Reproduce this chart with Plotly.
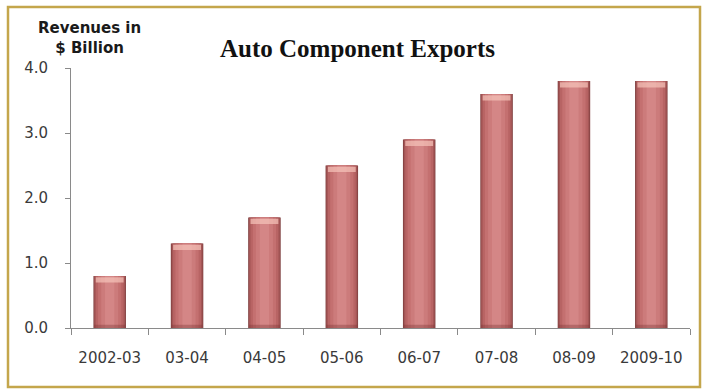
import plotly.graph_objects as go

# Auto component exports, revenues in $ billion
years = ["2002-03", "03-04", "04-05", "05-06", "06-07", "07-08", "08-09", "2009-10"]
revenues = [0.8, 1.3, 1.7, 2.5, 2.9, 3.6, 3.8, 3.8]
y_ticks = [0.0, 1.0, 2.0, 3.0, 4.0]

fig = go.Figure()

# Cylinder-like shading: stacked overlays, dark edges to a lighter core
shades = [
    (0.42, "#7e3e3e"),
    (0.40, "#a45656"),
    (0.36, "#b86464"),
    (0.30, "#c47070"),
    (0.22, "#cc7b7b"),
    (0.12, "#d48686"),
]
for w, c in shades:
    fig.add_trace(go.Bar(
        x=years, y=revenues, width=w,
        marker=dict(color=c, line=dict(width=0)),
        hoverinfo="skip" if w != 0.42 else None,
        showlegend=False,
    ))

# Light rim at the top of each column
cap_h = 0.08
fig.add_trace(go.Bar(
    x=years, y=[cap_h] * len(revenues), base=[v - cap_h - 0.02 for v in revenues],
    width=0.36, marker=dict(color="rgba(246,196,186,0.7)", line=dict(width=0)),
    hoverinfo="skip", showlegend=False,
))
# Slightly darker foot of each column
fig.add_trace(go.Bar(
    x=years, y=[0.05] * len(revenues), width=0.40,
    marker=dict(color="rgba(120,50,50,0.35)", line=dict(width=0)),
    hoverinfo="skip", showlegend=False,
))

font_sans = "DejaVu Sans"
axis_col = "#8a8a8a"

fig.update_layout(
    width=707, height=390,
    margin=dict(l=71, r=17, t=68, b=62),
    paper_bgcolor="white", plot_bgcolor="white",
    barmode="overlay",
    showlegend=False,
    xaxis=dict(
        type="category", range=[-0.5, 7.5],
        showline=True, linecolor=axis_col, linewidth=1,
        ticks="outside", tickson="boundaries", ticklen=6, tickcolor=axis_col,
        showgrid=False, zeroline=False,
        tickfont=dict(family=font_sans, size=15, color="#3a3a3a"),
        ticklabelstandoff=16,
    ),
    yaxis=dict(
        range=[0, 4], tickvals=y_ticks, tickformat=".1f",
        showline=True, linecolor=axis_col, linewidth=1,
        ticks="outside", ticklen=5, tickcolor=axis_col,
        showgrid=False, zeroline=False,
        tickfont=dict(family=font_sans, size=15, color="#3a3a3a"),
        ticklabelstandoff=14,
    ),
    annotations=[
        dict(
            text="<b>Auto Component Exports</b>",
            xref="paper", yref="paper", x=(357 - 71) / 619, y=(328 - 48) / 260,
            xanchor="center", yanchor="middle", showarrow=False,
            font=dict(family="Liberation Serif", size=25, color="#111111"),
        ),
        dict(
            text="<b>Revenues in</b><br><b>$ Billion</b>",
            xref="paper", yref="paper", x=(89 - 71) / 619, y=(328 - 38) / 260,
            xanchor="center", yanchor="middle", align="center", showarrow=False,
            font=dict(family=font_sans, size=15, color="#1a1a1a"),
        ),
    ],
    shapes=[
        dict(
            type="rect", xref="paper", yref="paper",
            x0=(8 - 71) / 619, x1=(700 - 71) / 619,
            y0=(328 - 387) / 260, y1=(328 - 7) / 260,
            line=dict(color="#c4a64c", width=2.5), fillcolor="rgba(0,0,0,0)",
            layer="below",
        ),
    ],
)

fig.write_html("out.html")
